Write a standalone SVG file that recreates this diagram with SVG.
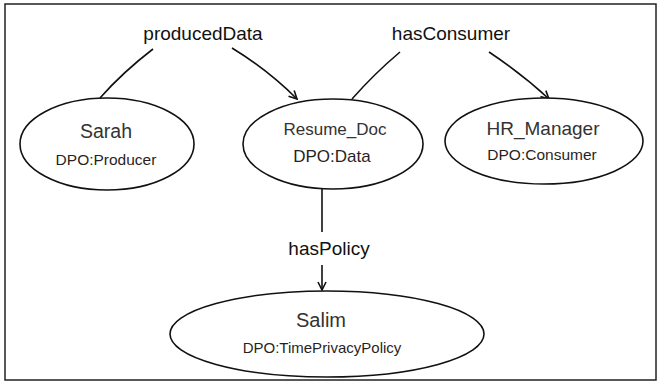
<svg xmlns="http://www.w3.org/2000/svg" width="660" height="383" viewBox="0 0 660 383">
<style>
.frame{fill:#fff;stroke:#222;stroke-width:1.5}
.node{fill:#fff;stroke:#111;stroke-width:1.6}
.name{font-family:"Liberation Sans",Arial,sans-serif;fill:#333;text-anchor:middle}
.type{font-family:"Liberation Sans",Arial,sans-serif;fill:#2a1f1f;text-anchor:middle}
.lbl{font-family:"Liberation Sans",Arial,sans-serif;font-size:19px;fill:#111;text-anchor:middle}
.edge{fill:none;stroke:#111;stroke-width:1.6}
</style>
<defs>
<marker id="arr" viewBox="0 0 10 10" refX="9" refY="5" markerWidth="10" markerHeight="10" markerUnits="userSpaceOnUse" orient="auto">
<path d="M1,1 L9,5 L1,9" fill="none" stroke="#111" stroke-width="1.6"/>
</marker>
</defs>
<rect class="frame" x="5" y="4" width="651" height="376"/>
<g id="connectors">
<path class="edge" d="M100,98 Q123,72 153,49"/>
<path class="edge" d="M232,48 Q268,70 297,99" marker-end="url(#arr)"/>
<path class="edge" d="M352,99 Q374,74 400,52"/>
<path class="edge" d="M489,52 Q522,74 549,99" marker-end="url(#arr)"/>
<path class="edge" d="M322,177 L322,232"/>
<path class="edge" d="M322,265 L322,290" marker-end="url(#arr)"/>
<text class="lbl" x="203" y="40">producedData</text>
<text class="lbl" x="451" y="40">hasConsumer</text>
<text class="lbl" x="329" y="255">hasPolicy</text>
</g>
<g id="sarah">
<ellipse class="node" cx="107" cy="144" rx="87" ry="46"/>
<text class="name" x="106" y="138" font-size="19.5">Sarah</text>
<text class="type" x="106" y="165" font-size="15.5">DPO:Producer</text>
</g>
<g id="resume_doc">
<ellipse class="node" cx="333" cy="144" rx="90" ry="45"/>
<text class="name" x="335" y="135" font-size="17">Resume_Doc</text>
<text class="type" x="332" y="162" font-size="17">DPO:Data</text>
</g>
<g id="hr_manager">
<ellipse class="node" cx="544" cy="141" rx="99" ry="43"/>
<text class="name" x="543" y="135" font-size="19">HR_Manager</text>
<text class="type" x="542" y="160" font-size="15.5">DPO:Consumer</text>
</g>
<g id="salim">
<ellipse class="node" cx="327" cy="334" rx="157" ry="43"/>
<text class="name" x="321" y="327" font-size="20">Salim</text>
<text class="type" x="322" y="353" font-size="15">DPO:TimePrivacyPolicy</text>
</g>
</svg>
